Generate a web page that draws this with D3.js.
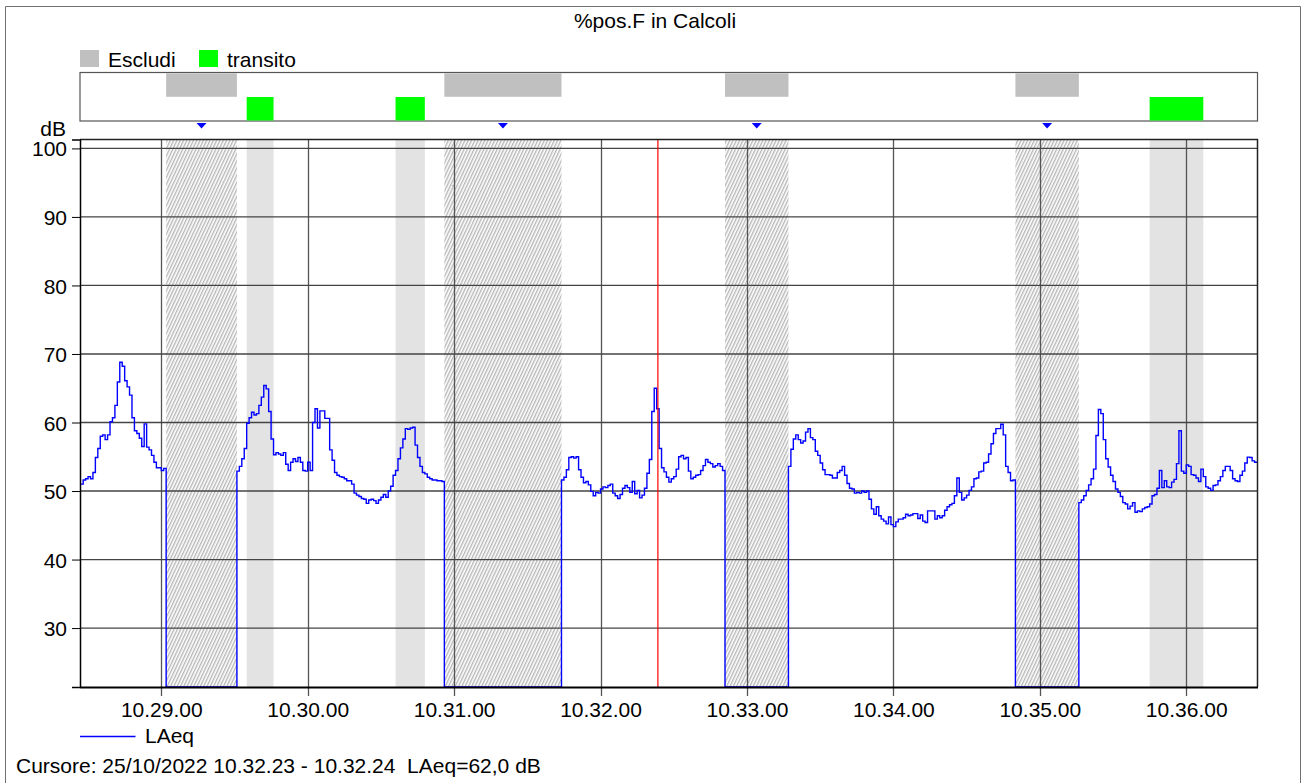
<!DOCTYPE html>
<html><head><meta charset="utf-8">
<script src="https://cdn.jsdelivr.net/npm/d3@7/dist/d3.min.js"></script>
<style>
body{margin:0;background:#fff;}
svg text{font-family:"Liberation Sans",Arial,sans-serif;fill:#000;}
</style></head><body>
<svg id="c" width="1304" height="783"></svg>
<script>
// ---------------- data ----------------
const chartTitle = "%pos.F in Calcoli";
const seriesName = "LAeq";
const legendNames = ["Escludi", "transito"];
const cursorText = "Cursore: 25/10/2022 10.32.23 - 10.32.24  LAeq=62,0 dB";
const cursorTime = "10:32:23.5";
const firstSample = "10:28:27";            // one sample per second
const xDomainTimes = ["10:28:26.7", "10:36:29.2"];
const yDomain = [21.4, 101.3];
const yTicks = [30, 40, 50, 60, 70, 80, 90, 100];
const escludiStart = ["10:29:02", "10:30:56", "10:32:51", "10:34:50"];
const escludiEnd   = ["10:29:31", "10:31:44", "10:33:17", "10:35:16"];
const transitoStart = ["10:29:35", "10:30:36", "10:35:45"];
const transitoEnd   = ["10:29:46", "10:30:48", "10:36:07"];
const N = null;
const segA = [51.0,51.6,51.8,52.1,51.8,52.7,54.9,56.2,58.0,58.2,57.5,58.2,60.1,60.7,62.5,65.9,68.8,68.2,66.1,65.2,64.0,60.7,58.8,58.4,57.7,56.5,59.8,56.4,56.0,55.2,54.2,53.4,53.4,53.0,53.3];
const gap1 = 29;
const segB = [52.9,53.6,54.7,56.2,59.9,60.7,61.5,61.1,61.3,62.5,63.7,65.4,64.9,61.6,57.6,55.3,55.6,55.4,55.2,55.6,53.9,53.0,54.2,54.7,54.3,54.9,54.2,53.0,52.9,54.2,53.0,60.0,62.0,59.2,61.7,61.7,60.6,60.6,56.0,
  54.5,52.7,52.3,52.1,52.0,51.8,51.5,51.5,51.0,49.7,49.4,49.2,48.9,48.8,48.2,48.7,48.8,48.6,48.2,48.7,49.1,49.5,49.1,50.0,50.7,52.3,53.0,54.7,56.3,57.6,59.1,59.0,59.2,59.3,56.7,54.9,53.6,52.7,52.5,52.0,51.8,51.6,51.6,51.5,51.5,51.4];
const gap2 = 48;
const segC = [51.6,52.0,53.1,54.9,55.0,54.8,55.0,53.1,52.0,51.2,51.4,50.9,49.95,49.3,49.8,49.7,50.3,50.6,50.5,50.8,51.0,49.7,49.3,48.9,49.5,50.4,50.8,50.5,49.8,51.4,49.6,50.1,49.0,49.4,50.4,52.6,54.6,61.6,65.0,62.0,
  56.2,53.4,52.8,52.0,51.3,51.8,52.1,53.2,55.0,55.2,54.7,54.9,52.9,51.8,52.0,52.3,52.4,53.0,53.7,54.6,54.2,54.0,53.5,53.7,54.0,53.6,53.0];
const gap3 = 26;
const segD = [53.6,56.1,57.6,58.2,57.5,57.0,57.3,58.6,59.1,57.8,57.5,55.8,55.2,54.1,53.1,52.4,52.4,52.3,51.9,51.9,
  52.7,53.0,53.6,52.3,51.1,50.4,50.3,49.7,49.8,49.7,50.0,49.8,50.0,48.8,47.4,46.6,47.7,46.4,45.9,45.6,
  45.2,46.2,45.1,44.8,45.5,45.9,45.9,46.1,46.6,46.4,46.5,46.7,46.7,46.0,46.5,45.6,45.4,47.1,47.1,47.1,
  45.9,46.4,46.1,46.4,47.2,47.7,48.0,48.2,49.3,51.9,49.8,48.7,49.0,49.4,50.1,50.6,51.8,51.9,52.8,52.9,
  54.1,54.2,55.4,56.9,58.4,59.1,59.1,59.75,58.2,53.6,52.7,51.5,51.6];
const gap4 = 26;
const segE = [48.3,48.7,49.3,50.1,50.9,51.8,53.2,58.1,61.9,61.3,57.5,54.7,53.5,52.3,51.4,50.3,49.8,49.2,48.3,48.1,
  47.4,47.8,48.3,46.9,47.1,47.0,47.4,47.6,47.7,48.1,49.3,49.5,50.4,53.0,50.5,51.5,50.6,50.5,51.3,51.7,
  54.0,58.8,52.9,52.6,53.8,53.6,52.4,52.3,51.9,51.4,53.2,52.1,50.6,50.4,50.1,50.8,50.9,51.5,52.1,53.0,
  53.6,53.6,53.0,51.8,51.5,51.4,52.3,52.9,54.1,54.95,54.9,54.4,54.2,54.2];
const values = [].concat(segA, Array(gap1).fill(N), segB, Array(gap2).fill(N), segC, Array(gap3).fill(N), segD, Array(gap4).fill(N), segE);

// ---------------- helpers ----------------
function T(s){ const p = s.split(":").map(Number); const sec = p[2]; return new Date(2022,9,25,p[0],p[1],Math.floor(sec),Math.round((sec-Math.floor(sec))*1000)); }
const t0 = T(firstSample).getTime();
const series = values.map((v,i)=>({t:new Date(t0+i*1000), v}));

const svg = d3.select("#c");
const L = 80, R = 1257.5, TOP = 139.5, BOT = 687;
const x = d3.scaleTime().domain(xDomainTimes.map(T)).range([L, R]);
const y = d3.scaleLinear().domain(yDomain).range([BOT, TOP]);

// defs: hatch + clip
const defs = svg.append("defs");
const pat = defs.append("pattern").attr("id","hatch").attr("patternUnits","userSpaceOnUse")
  .attr("width",3).attr("height",3).attr("patternTransform","rotate(25)");
pat.append("rect").attr("width",3).attr("height",3).attr("fill","#ffffff");
pat.append("line").attr("x1",0.75).attr("y1",0).attr("x2",0.75).attr("y2",3).attr("stroke","#a0a0a0").attr("stroke-width",1.05);
defs.append("clipPath").attr("id","plotclip").append("rect").attr("x",L).attr("y",TOP).attr("width",R-L).attr("height",BOT-TOP);

// outer frame
svg.append("path").attr("d",`M5.5,783 V6.5 H1300.5 V783`).attr("fill","none").attr("stroke","#707070").attr("stroke-width",1);

// title
svg.append("text").attr("x",655).attr("y",28).attr("text-anchor","middle").style("font-size","21px").text(chartTitle);

// top legend
const legColors = ["#c0c0c0","#00ff00"];
const legX = [80, 199];
legendNames.forEach((n,i)=>{
  svg.append("rect").attr("x",legX[i]).attr("y",50).attr("width",19).attr("height",17).attr("fill",legColors[i]);
  svg.append("text").attr("x",legX[i]+28).attr("y",66.5).style("font-size","21px").text(n);
});

// band box
const band = svg.append("g");
band.append("rect").attr("x",L).attr("y",72.5).attr("width",R-L).attr("height",48.5).attr("fill","#fff").attr("stroke","#555").attr("stroke-width",1.2);
escludiStart.forEach((s,i)=>{
  band.append("rect").attr("x",x(T(s))).attr("y",73.3).attr("width",x(T(escludiEnd[i]))-x(T(s))).attr("height",23.5).attr("fill","#c0c0c0");
});
transitoStart.forEach((s,i)=>{
  band.append("rect").attr("x",x(T(s))).attr("y",97).attr("width",x(T(transitoEnd[i]))-x(T(s))).attr("height",23.5).attr("fill","#00ff00");
});
// markers
escludiStart.forEach((s,i)=>{
  const cx = (x(T(s))+x(T(escludiEnd[i])))/2;
  svg.append("path").attr("d",`M${cx-5},123 H${cx+5} L${cx},128.5 Z`).attr("fill","#0000ff");
});

// dB label
svg.append("text").attr("x",66).attr("y",135.5).attr("text-anchor","end").style("font-size","21px").text("dB");

// plot shading
const plot = svg.append("g");
transitoStart.forEach((s,i)=>{
  plot.append("rect").attr("x",x(T(s))).attr("y",TOP).attr("width",x(T(transitoEnd[i]))-x(T(s))).attr("height",BOT-TOP).attr("fill","#e3e3e3");
});
escludiStart.forEach((s,i)=>{
  plot.append("rect").attr("x",x(T(s))).attr("y",TOP).attr("width",x(T(escludiEnd[i]))-x(T(s))).attr("height",BOT-TOP).attr("fill","url(#hatch)");
});

// grid
const xt = x.ticks(d3.timeMinute.every(1));
plot.selectAll(".vg").data(xt).enter().append("line")
  .attr("x1",d=>Math.round(x(d))+0.5).attr("x2",d=>Math.round(x(d))+0.5).attr("y1",TOP).attr("y2",BOT+9)
  .attr("stroke","#555").attr("stroke-width",1.3);
plot.selectAll(".hg").data(yTicks).enter().append("line")
  .attr("x1",L).attr("x2",R).attr("y1",d=>y(d)).attr("y2",d=>y(d))
  .attr("stroke","#444").attr("stroke-width",1.3);

// series line
const line = d3.line().x(d=>x(d.t)).y(d=> d.v==null ? y.range()[0] : y(d.v)).curve(d3.curveStepAfter);
svg.append("path").datum(series).attr("clip-path","url(#plotclip)")
  .attr("d",line).attr("fill","none").attr("stroke","#0000ff").attr("stroke-width",1.4);

// cursor
svg.append("line").attr("x1",x(T(cursorTime))).attr("x2",x(T(cursorTime))).attr("y1",TOP).attr("y2",BOT)
  .attr("stroke","#ff0000").attr("stroke-width",1.2);

// frame top/right
svg.append("path").attr("d",`M${L},${TOP} H${R} V${BOT}`).attr("fill","none").attr("stroke","#222").attr("stroke-width",1.5);

// axes
const yAxis = d3.axisLeft(y).tickValues(yTicks).tickSize(8).tickPadding(5);
const gy = svg.append("g").attr("transform",`translate(${L},0)`).call(yAxis);
gy.selectAll("text").style("font-size","21px").attr("dy","0.36em");
gy.select(".domain").attr("stroke","#000").attr("stroke-width",1.5);
gy.selectAll(".tick line").attr("stroke","#000");

const xAxis = d3.axisBottom(x).ticks(d3.timeMinute.every(1)).tickFormat(d3.timeFormat("%H.%M.%S")).tickSize(0).tickPadding(15);
const gx = svg.append("g").attr("transform",`translate(0,${BOT})`).call(xAxis);
gx.selectAll("text").style("font-size","21px");
gx.select(".domain").attr("stroke","#000").attr("stroke-width",2);

// bottom legend
svg.append("line").attr("x1",80).attr("x2",135.5).attr("y1",736.5).attr("y2",736.5).attr("stroke","#0000ff").attr("stroke-width",1.4);
svg.append("text").attr("x",145).attr("y",743).style("font-size","21px").text(seriesName);

// cursor text
svg.append("text").attr("x",16).attr("y",773).style("font-size","21px").style("white-space","pre").attr("xml:space","preserve").text(cursorText);
</script>
</body></html>
